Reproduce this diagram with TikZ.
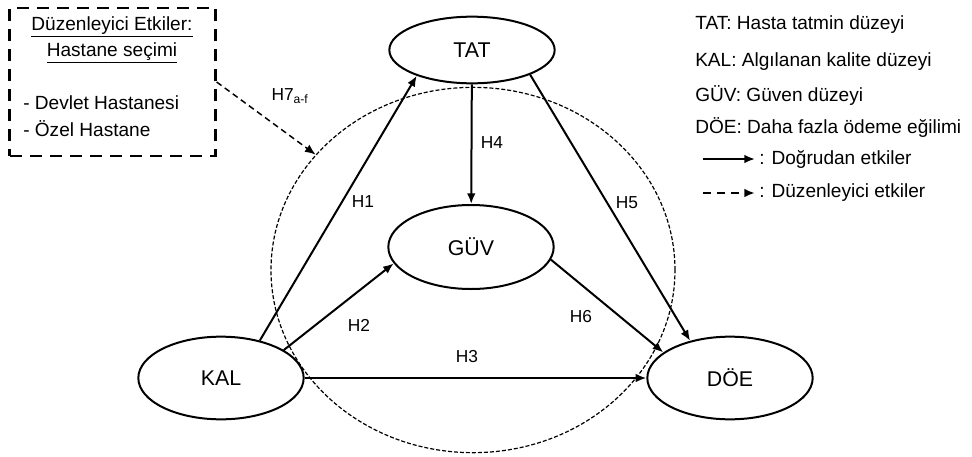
\documentclass[tikz,border=0pt]{standalone}
\usepackage{fontspec}
\setmainfont{Liberation Sans}
\usetikzlibrary{shapes.geometric,arrows.meta}

\begin{document}
\begin{tikzpicture}[x=0.75pt,y=-0.75pt,
  factor/.style={ellipse,draw,line width=1.5pt,minimum width=124pt,minimum height=62pt,font=\fontsize{16}{18}\selectfont},
  direct/.style={-{Latex[length=8pt,width=6.5pt]},line width=1.5pt},
  moder/.style={-{Latex[length=8pt,width=6.5pt]},line width=1.1pt,dash pattern=on 4.5pt off 3pt},
  hlab/.style={font=\fontsize{13}{15}\selectfont},
  modtext/.style={inner sep=0pt,font=\fontsize{14.3}{17}\selectfont},
  legtext/.style={anchor=west,inner sep=0pt,font=\fontsize{14.3}{17}\selectfont}]
\useasboundingbox (0,0) rectangle (972,457);

% moderation zone
\node[ellipse,draw,line width=0.9pt,dash pattern=on 3pt off 1.5pt,minimum width=303pt,minimum height=274pt] (zone) at (473,270) {};

% factors
\node[factor,minimum height=50pt] (tat) at (472,50) {TAT};
\node[factor,minimum height=63pt] (guv) at (471,247) {GÜV};
\node[factor] (kal) at (221,378) {KAL};
\node[factor] (doe) at (730,378) {DÖE};

% moderator box
\node[draw,line width=2.2pt,dash pattern=on 9pt off 6pt,minimum width=154pt,minimum height=111pt] (mod) at (112.5,82) {};
\node[modtext] (modtitle) at (112,27) {\underline{Düzenleyici Etkiler:}};
\node[modtext] (modsub) at (112,53) {\underline{Hastane seçimi}};
\node[modtext,anchor=west] (devlet) at (23,103) {- Devlet Hastanesi};
\node[modtext,anchor=west] (ozel) at (23,129) {- Özel Hastane};

% direct effects
\draw[direct] (kal.44) -- (tat.205);
\draw[direct] (kal.24) -- (guv.192);
\draw[direct] (kal) -- (doe);
\draw[direct] (tat) -- (guv);
\draw[direct] (tat.337) -- (doe.137);
\draw[direct] (guv.351) -- (doe.159);
% moderating effect
\draw[moder] (mod.east) -- (zone);

\node[hlab] (h1) at (363,202) {H1};
\node[hlab] (h2) at (359,325) {H2};
\node[hlab] (h3) at (467,357) {H3};
\node[hlab] (h4) at (492,143) {H4};
\node[hlab] (h5) at (627,203) {H5};
\node[hlab] (h6) at (581,317) {H6};
\node[hlab] (h7) at (290,96) {H7\textsubscript{a-f}};

% legend
\node[legtext] (legtat) at (695,25) {TAT: Hasta tatmin düzeyi};
\node[legtext] (legkal) at (695,62) {KAL: Algılanan kalite düzeyi};
\node[legtext] (legguv) at (695,95) {GÜV: Güven düzeyi};
\node[legtext] (legdoe) at (695,127) {DÖE: Daha fazla ödeme eğilimi};
\coordinate (ldirect) at (703,159);
\node[legtext] (legdirect) at (759,159) {: Doğrudan etkiler};
\coordinate (lmoder) at (703,193);
\node[legtext] (legmoder) at (759,193) {: Düzenleyici etkiler};
\draw[direct] (ldirect) -- ([xshift=-3pt]legdirect.west);
\draw[moder,line width=1.6pt,dash pattern=on 6pt off 4.5pt] (lmoder) -- ([xshift=-3pt]legmoder.west);
\end{tikzpicture}
\end{document}
